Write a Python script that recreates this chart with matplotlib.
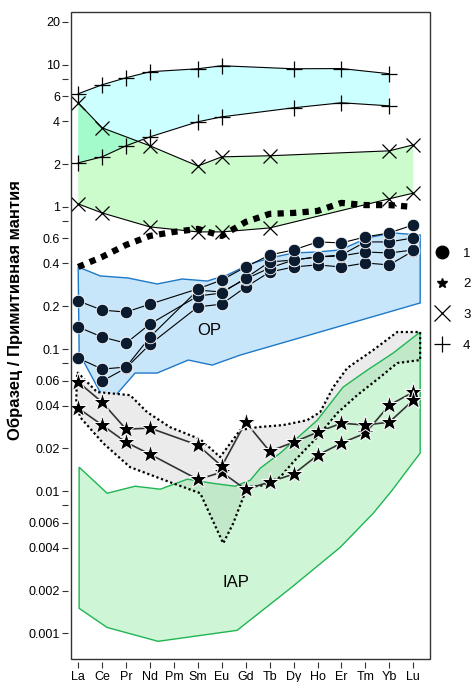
import numpy as np
import matplotlib
matplotlib.use("Agg")
import matplotlib.pyplot as plt
from matplotlib.lines import Line2D
from matplotlib.patches import Rectangle

plt.rcParams['font.family'] = ['Liberation Sans', 'DejaVu Sans']

elements = ['La', 'Ce', 'Pr', 'Nd', 'Pm', 'Sm', 'Eu', 'Gd', 'Tb', 'Dy', 'Ho', 'Er', 'Tm', 'Yb', 'Lu']

# series 4 (+)
plus_el = ['La', 'Ce', 'Pr', 'Nd', 'Sm', 'Eu', 'Dy', 'Er', 'Yb']
plus_hi = [6.25, 7.23, 8.1, 8.93, 9.37, 9.84, 9.37, 9.4, 8.65]
plus_lo = [2.04, 2.25, 2.69, 3.11, 3.97, 4.30, 4.98, 5.40, 5.14]

# series 3 (x)
cross_el = ['La', 'Ce', 'Nd', 'Sm', 'Eu', 'Tb', 'Yb', 'Lu']
cross_hi = [5.40, 3.60, 2.69, 1.94, 2.25, 2.29, 2.48, 2.73]
cross_lo = [1.05, 0.907, 0.723, 0.667, 0.667, 0.711, 1.14, 1.25]

# thick dotted line
dot_vals = [0.378, 0.445, 0.540, 0.625, 0.667, 0.700, 0.625, 0.784, 0.893,
            0.907, 0.937, 1.067, 1.03, 1.03, 1.0]

# series 1 (circles), OP samples
op_el = ['La', 'Ce', 'Pr', 'Nd', 'Sm', 'Eu', 'Gd', 'Tb', 'Dy', 'Ho', 'Er', 'Tm', 'Yb', 'Lu']
op_1 = [0.218, 0.188, 0.182, 0.207, 0.265, 0.306, 0.378, 0.459, 0.498, 0.567, 0.558, 0.615, 0.656, 0.747]
op_2 = [0.143, 0.1215, 0.110, 0.150, 0.236, 0.248, 0.316, 0.410, 0.423, 0.445, 0.459, 0.567, 0.567, 0.605]
op_3 = [0.0864, 0.0723, 0.0747, 0.1215, 0.260, 0.252, 0.311, 0.372, 0.423, 0.445, 0.452, 0.482, 0.474, 0.498]
op_4 = [np.nan, 0.0595, 0.0735, 0.108, 0.198, 0.207, 0.273, 0.348, 0.378, 0.391, 0.378, 0.403, 0.391, 0.490]

# series 2 (stars)
star_a = [0.0586, 0.0423, 0.0273, 0.0278, 0.0211, 0.0150, 0.0306, 0.0191, 0.0221, 0.0260, 0.0301, 0.0292, 0.0306, 0.0437]
star_b = [0.0384, 0.0292, 0.0221, 0.0182, 0.0121, 0.0136, 0.0103, 0.0116, 0.0132, 0.0179, 0.0218, 0.0256, 0.0403, 0.0498]

# fields (x in element index units)
op_field_x = [0, 0.92, 2.09, 3.30, 4.35, 5.39, 6.23, 7.19, 8.02, 8.98, 9.99, 10.95, 12.08, 13.12, 14.29,
              14.29, 6.77, 5.60, 4.60, 3.30, 2.38, 1.21, 0.04]
op_field_y = [0.378, 0.327, 0.316, 0.287, 0.311, 0.301, 0.332, 0.397, 0.437, 0.474, 0.482, 0.498, 0.605, 0.656, 0.635,
              0.211, 0.0907, 0.0771, 0.0837, 0.0678, 0.0678, 0.0403, 0.0937]

gray_field_x = [-0.04, 0.79, 2.17, 2.88, 3.84, 5.10, 5.93, 6.77, 7.48, 8.57, 9.57, 10.11, 10.66, 11.24, 12.33, 13.33, 14.29,
                14.29, 13.33, 12.62, 11.66, 10.82, 9.99, 8.98, 8.44, 7.73, 7.06, 6.48, 6.06, 5.10, 3.84, 2.17, 1.04, 0.08, -0.08]
gray_field_y = [0.0689, 0.0498, 0.0474, 0.0360, 0.0282, 0.0232, 0.0174, 0.0269, 0.0282, 0.0292, 0.0316, 0.0360, 0.0540, 0.0735, 0.0984, 0.1318, 0.1318,
                0.0837, 0.0797, 0.0635, 0.0474, 0.0354, 0.0240, 0.0160, 0.01256, 0.0110, 0.01067, 0.00595, 0.00430, 0.00968, 0.01157, 0.01476, 0.0218, 0.0332, 0.0437]

iap_field_x = [0.04, 1.21, 2.38, 3.43, 4.56, 5.60, 6.56, 7.19, 7.61, 8.44, 9.99, 11.07, 12.08, 13.16, 14.29,
               14.29, 14.00, 13.12, 12.33, 10.95, 8.86, 6.64, 3.34, 1.21, 0.04]
iap_field_y = [0.01476, 0.00968, 0.01084, 0.01033, 0.01215, 0.01138, 0.01084, 0.01195, 0.01452, 0.01853, 0.0316, 0.0540, 0.0711, 0.0937, 0.1318,
               0.01853, 0.0160, 0.01016, 0.0070, 0.00403, 0.00207, 0.00105, 0.000879, 0.00110, 0.0015]

ytick_vals = [0.001, 0.002, 0.004, 0.006, 0.008, 0.01, 0.02, 0.04, 0.06, 0.08, 0.1, 0.2, 0.4, 0.6, 0.8,
              1, 2, 4, 6, 8, 10, 20]
ytick_labels = ['0.001', '0.002', '0.004', '0.006', '', '0.01', '0.02', '0.04', '0.06', '', '0.1', '0.2', '0.4', '0.6', '',
                '1', '2', '4', '6', '', '10', '20']


def pos(names):
    return [elements.index(n) for n in names]


fig = plt.figure(figsize=(4.72, 6.82), dpi=100)
ax = fig.add_axes([0.1504, 0.0337, 0.7606, 0.9487])
ax.set_yscale('log')

# cyan (+) and green (x) fields
px = pos(plus_el)
ax.fill(px + px[::-1], plus_hi + plus_lo[::-1], color=(0, 1, 1), alpha=0.2, lw=0, zorder=1)
cx = pos(cross_el)
ax.fill(cx + cx[::-1], cross_hi + cross_lo[::-1], color=(0.0, 0.93, 0.0), alpha=0.2, lw=0, zorder=1)

# OP field
ax.fill(op_field_x, op_field_y, facecolor='#c8e6fa', edgecolor='#1f78c8', lw=1.0, zorder=2)

# gray field and IAP field
ax.fill(gray_field_x, gray_field_y, facecolor='#ebebeb', edgecolor='none', zorder=2)
ax.fill(iap_field_x, iap_field_y, facecolor=(0.45, 0.89, 0.54), alpha=0.35, edgecolor='none', zorder=3)
ax.fill(iap_field_x, iap_field_y, facecolor='none', edgecolor='#1fb552', lw=1.0, zorder=3)
ax.plot(gray_field_x + gray_field_x[:1], gray_field_y + gray_field_y[:1], color='black',
        lw=1.6, ls=(0, (1, 1.2)), zorder=4)

# + lines
for vals in (plus_hi, plus_lo):
    ax.plot(px, vals, color='black', lw=0.8, marker='+', ms=11, mew=0.9, zorder=5)
# x lines
for vals in (cross_hi, cross_lo):
    ax.plot(cx, vals, color='black', lw=0.8, marker='x', ms=10, mew=0.9, zorder=5)

# thick dotted line
ax.plot(range(len(elements)), dot_vals, color='black', lw=4.5, ls=(0, (1, 1)), zorder=6)

# OP circles
ox = pos(op_el)
for vals in (op_4, op_3, op_2, op_1):
    ax.plot(ox, vals, color='black', lw=0.8, zorder=6)
    ax.plot(ox, vals, ls='none', marker='o', ms=9, mfc='#0b1b30', mec='white', mew=0.6, zorder=7)

# stars
for vals in (star_b, star_a):
    ax.plot(ox, vals, color='#333333', lw=1.2, zorder=6)
    ax.plot(ox, vals, ls='none', marker='*', ms=14, mfc='black', mec='white', mew=0.7, zorder=7)

ax.text(5.47, 0.136, 'OP', fontsize=12, ha='center', va='center', zorder=8)
ax.text(6.6, 0.00229, 'IAP', fontsize=12, ha='center', va='center', zorder=8)

ax.set_xlim(-0.3, 14.7)
ax.set_ylim(0.00066, 23.5)
ax.set_xticks(range(len(elements)))
ax.set_xticklabels(elements)
ax.set_yticks(ytick_vals)
ax.set_yticklabels(ytick_labels)
ax.yaxis.set_minor_locator(matplotlib.ticker.NullLocator())
ax.tick_params(axis='both', labelsize=9, length=4, width=0.8, color='#333333', pad=2)

for s in ax.spines.values():
    s.set_visible(False)
ax.spines['left'].set_position(('outward', 2))
ax.spines['bottom'].set_position(('outward', 2.5))
ax.add_patch(Rectangle((0, 0), 1, 1, transform=ax.transAxes, fill=False,
                       edgecolor='#333333', lw=1.0, clip_on=False, zorder=10))

ax.set_ylabel('Образец / Примитивная мантия', fontsize=12, fontweight='bold')
ax.yaxis.set_label_coords(-0.135, 0.54)

handles = [
    Line2D([], [], ls='none', marker='o', ms=9, color='black'),
    Line2D([], [], ls='none', marker='*', ms=7, color='black'),
    Line2D([], [], ls='none', marker='x', ms=11, mew=0.9, color='black'),
    Line2D([], [], ls='none', marker='+', ms=12, mew=0.9, color='black'),
]
fig.legend(handles, ['1', '2', '3', '4'], loc='upper left', bbox_to_anchor=(0.911, 0.645),
           frameon=False, fontsize=9.5, handlelength=1.0, handletextpad=1.1, labelspacing=1.4,
           borderaxespad=0)

fig.savefig('out.png', dpi=100)
